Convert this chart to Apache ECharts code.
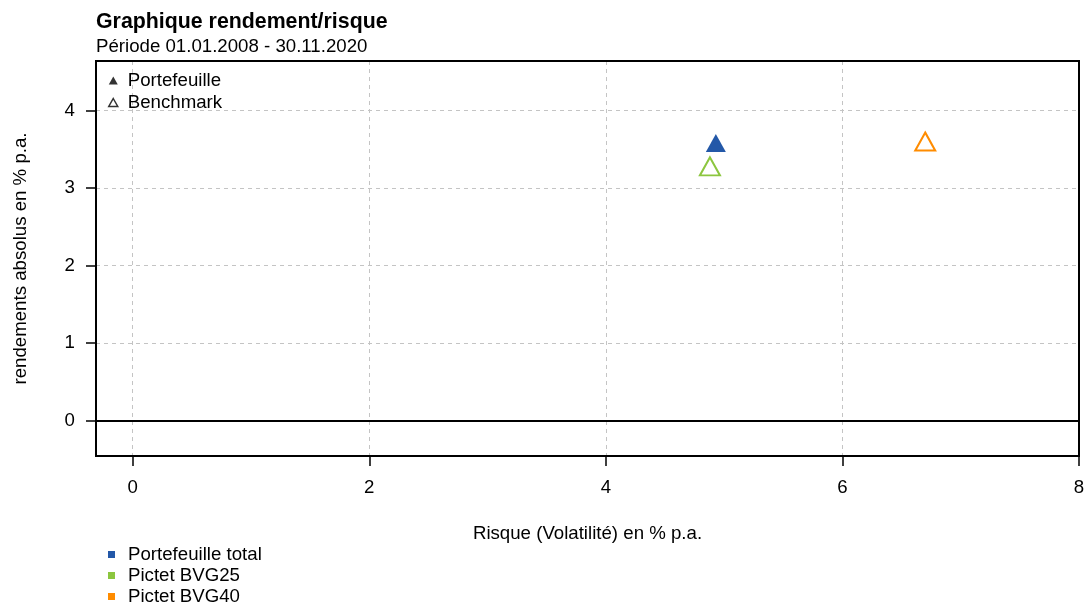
<!DOCTYPE html>
<html>
<head>
<meta charset="utf-8">
<script src="https://cdn.jsdelivr.net/npm/echarts@6/dist/echarts.min.js"></script>
<style>
  html, body { margin: 0; padding: 0; background: #fff; }
  #chart { width: 1087px; height: 608px; }
</style>
</head>
<body>
<div id="chart"></div>
<script>
// données
const seriesNames = ['Portefeuille total', 'Pictet BVG25', 'Pictet BVG40']
const seriesColors = ['#2358a8', '#8cc63f', '#ff8c00']
const filled = [true, false, false]
const risque = [4.93, 4.88, 6.70]
const rendement = [3.58, 3.28, 3.60]
const xTicks = [0, 2, 4, 6, 8]
const yTicks = [0, 1, 2, 3, 4]

const font = 'Liberation Sans, Arial, sans-serif'
const fs = 18.67
const chart = echarts.init(document.getElementById('chart'))

const gridLine = { show: true, lineStyle: { color: '#c4c4c4', type: [4, 4], width: 1 } }

const series = seriesNames.map((name, i) => ({
  name: name,
  type: 'scatter',
  symbol: 'triangle',
  symbolSize: [20, 18],
  data: [[risque[i], rendement[i]]],
  itemStyle: filled[i]
    ? { color: seriesColors[i], opacity: 1 }
    : { color: '#fff', borderColor: seriesColors[i], borderWidth: 2, opacity: 1 },
  emphasis: { disabled: true },
  z: 5
}))

// ligne du zéro
series.push({
  name: 'zero',
  type: 'scatter',
  data: [],
  markLine: {
    silent: true,
    symbol: 'none',
    label: { show: false },
    lineStyle: { color: '#000', type: 'solid', width: 2 },
    data: [{ yAxis: 0 }]
  }
})
// légende des symboles
series.push({ name: 'Portefeuille', type: 'scatter', data: [], symbol: 'triangle', itemStyle: { color: '#000' } })
series.push({ name: 'Benchmark', type: 'scatter', data: [], symbol: 'triangle', itemStyle: { color: '#fff', borderColor: '#000', borderWidth: 1.5 } })

const option = {
  animation: false,
  textStyle: { fontFamily: font, color: '#000' },
  title: {
    text: 'Graphique rendement/risque',
    subtext: 'Période 01.01.2008 - 30.11.2020',
    left: 91,
    top: 7,
    itemGap: 4,
    textStyle: { fontFamily: font, fontSize: 21.33, fontWeight: 'bold', color: '#000' },
    subtextStyle: { fontFamily: font, fontSize: fs, color: '#000' }
  },
  grid: {
    left: 96, right: 8, top: 61, bottom: 152,
    outerBoundsMode: 'none',
    containLabel: false,
    z: 3,
    show: true, borderColor: '#000', borderWidth: 2, backgroundColor: 'transparent'
  },
  legend: [
    {
      orient: 'vertical',
      left: 108, top: 71,
      padding: 0,
      itemWidth: 9, itemHeight: 8, itemGap: 3,
      selectedMode: false,
      textStyle: { fontFamily: font, fontSize: fs, color: '#000', padding: [0, 0, 0, 5] },
      data: [
        { name: 'Portefeuille', icon: 'triangle', itemStyle: { color: '#000' } },
        { name: 'Benchmark', icon: 'triangle', itemStyle: { color: '#fff', borderColor: '#000', borderWidth: 1.5 } }
      ]
    },
    {
      orient: 'vertical',
      left: 108, top: 545,
      padding: 0,
      height: 70,
      itemWidth: 7, itemHeight: 7, itemGap: 2,
      selectedMode: false,
      textStyle: { fontFamily: font, fontSize: fs, color: '#000', padding: [0, 0, 0, 8] },
      data: seriesNames.map((n, i) => ({ name: n, icon: 'rect', itemStyle: { color: seriesColors[i], borderWidth: 0 } }))
    }
  ],
  xAxis: {
    type: 'value',
    min: -0.31,
    max: 8,
    z: 0,
    name: 'Risque (Volatilité) en % p.a.',
    nameLocation: 'middle',
    nameGap: 68,
    nameTextStyle: { fontFamily: font, fontSize: fs, color: '#000' },
    axisLine: { show: false, onZero: false },
    axisTick: { show: true, length: 10, lineStyle: { color: '#000', width: 1.5 }, customValues: xTicks },
    axisLabel: { fontFamily: font, fontSize: fs, color: '#000', margin: 22, customValues: xTicks },
    splitLine: gridLine
  },
  yAxis: {
    type: 'value',
    min: -0.46,
    max: 4.64,
    z: 0,
    name: 'rendements absolus en % p.a.',
    nameLocation: 'middle',
    nameGap: 66,
    nameTextStyle: { fontFamily: font, fontSize: fs, color: '#000' },
    axisLine: { show: false, onZero: false },
    axisTick: { show: true, length: 10, lineStyle: { color: '#000', width: 1.5 }, customValues: yTicks },
    axisLabel: { fontFamily: font, fontSize: fs, color: '#000', margin: 21, customValues: yTicks },
    splitLine: gridLine
  },
  series: series
}

chart.setOption(option)
</script>
</body>
</html>
